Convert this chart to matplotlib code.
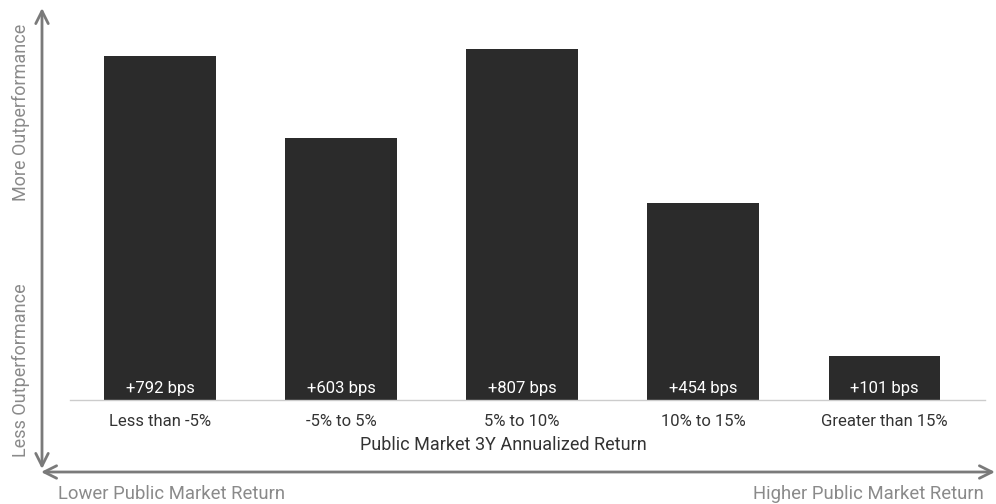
import matplotlib
matplotlib.use("Agg")
import matplotlib.pyplot as plt

# datos del grafico
categories = ["Less than -5%", "-5% to 5%", "5% to 10%", "10% to 15%", "Greater than 15%"]
values = [792, 603, 807, 454, 101]
labels = ["+792 bps", "+603 bps", "+807 bps", "+454 bps", "+101 bps"]

plt.rcParams['font.family'] = ['Roboto', 'DejaVu Sans']

W, H = 996, 504
fig = plt.figure(figsize=(W / 100, H / 100), dpi=100)

# ejes en pixeles: x 70..985, base en y=400, tope en y=12
x0, x1, yb, yt = 70, 985, 400, 12
ax = fig.add_axes([x0 / W, (H - yb) / H, (x1 - x0) / W, (yb - yt) / H])
ax.bar(range(len(values)), values, width=0.618, color="#2b2b2b")
ax.set_xlim(-0.497, 4.555)
ax.set_ylim(0, 893)

for i, lab in enumerate(labels):
    ax.annotate(lab, (i, 0), xytext=(0, 8.5), textcoords="offset points",
                ha="center", va="center", color="white", fontsize=12)

ax.set_xticks(range(len(categories)))
ax.set_xticklabels(categories, fontsize=12, color="#333333")
ax.tick_params(axis="x", length=0, pad=10)
ax.set_yticks([])
for s in ["top", "right", "left"]:
    ax.spines[s].set_visible(False)
ax.spines["bottom"].set_color("#cccccc")
ax.spines["bottom"].set_linewidth(1)

# capa en pixeles para flechas y rotulos
ax_f = fig.add_axes([0, 0, 1, 1], facecolor="none")
ax_f.set_xlim(0, W)
ax_f.set_ylim(H, 0)
ax_f.axis("off")

ax_f.text(503, 445, "Public Market 3Y Annualized Return",
          ha="center", va="center", fontsize=13, color="#333333")

gray = "#7a7a7a"
ax_f.annotate("", xy=(42, 8), xytext=(42, 469),
              arrowprops=dict(arrowstyle="<->,head_length=0.9,head_width=0.45", color=gray, lw=2,
                              shrinkA=0, shrinkB=0))
ax_f.annotate("", xy=(995, 472), xytext=(41, 472),
              arrowprops=dict(arrowstyle="<->,head_length=0.9,head_width=0.45", color=gray, lw=2,
                              shrinkA=0, shrinkB=0))

ax_f.text(21, 112, "More Outperformance", rotation=90, ha="center", va="center",
          fontsize=13, color="#8a8a8a")
ax_f.text(21, 370, "Less Outperformance", rotation=90, ha="center", va="center",
          fontsize=13, color="#8a8a8a")
ax_f.text(58, 494, "Lower Public Market Return", ha="left", va="center",
          fontsize=13.3, color="#8a8a8a")
ax_f.text(984, 494, "Higher Public Market Return", ha="right", va="center",
          fontsize=13.3, color="#8a8a8a")

fig.savefig("out.png", dpi=100)
